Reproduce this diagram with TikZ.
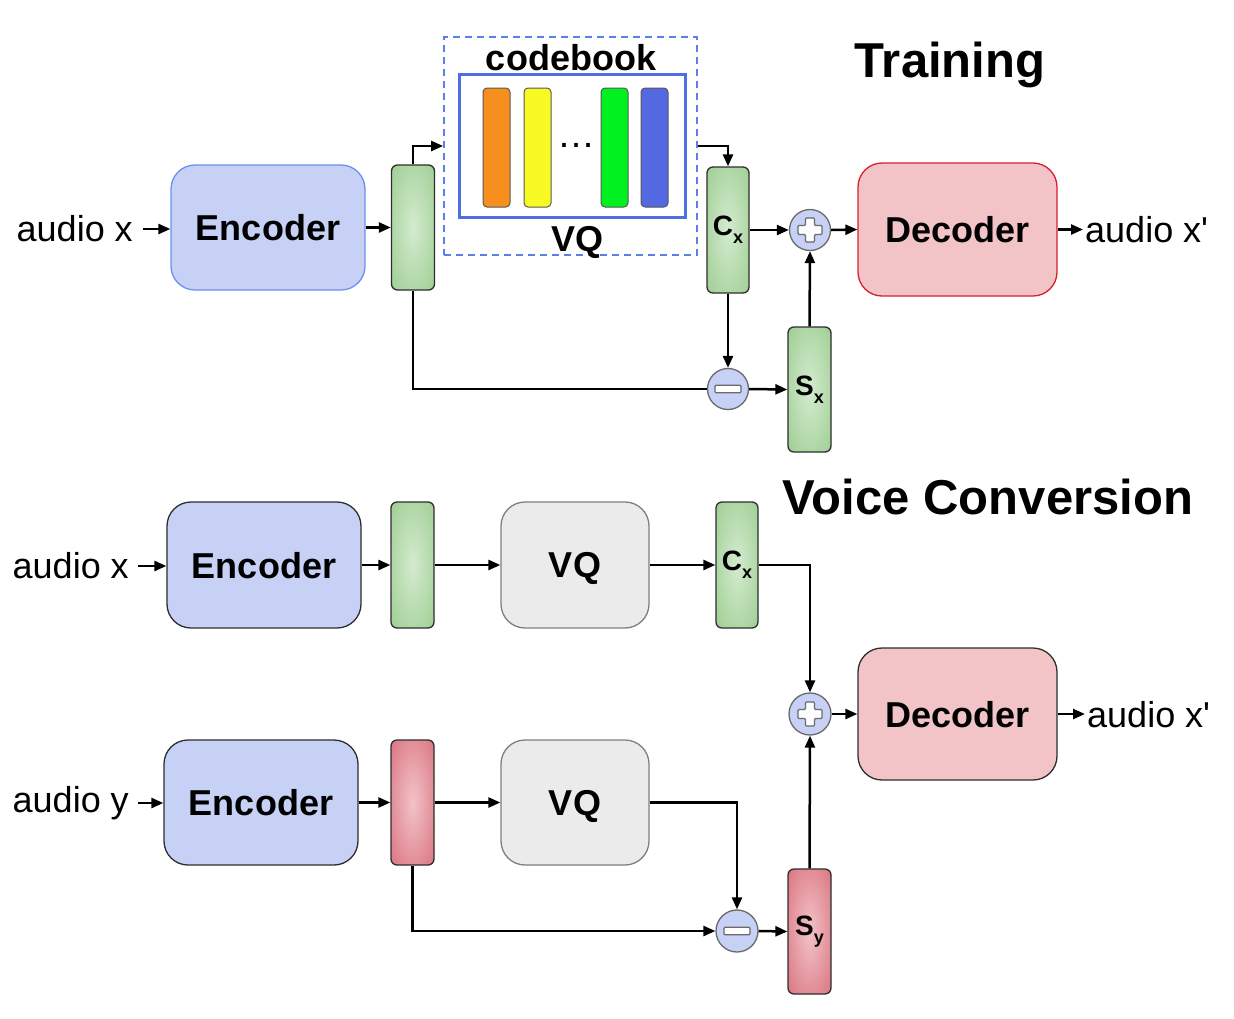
\documentclass[tikz,border=0pt]{standalone}
\usepackage{fontspec}
\setmainfont{Liberation Sans}
\newfontfamily\plainsans{Liberation Sans}[Ligatures=TeXOff]
\usetikzlibrary{arrows.meta,calc}
\definecolor{encfill}{HTML}{C6D1F5}
\definecolor{encdrawA}{HTML}{6E8FEE}
\definecolor{darkdraw}{HTML}{2E2E2E}
\definecolor{decfill}{HTML}{F2C4C8}
\definecolor{decdrawA}{HTML}{D81F2E}
\definecolor{vqfill}{HTML}{EBEBEB}
\definecolor{vqdraw}{HTML}{7F7F7F}
\definecolor{gin}{HTML}{D4EBCF}
\definecolor{gout}{HTML}{8CC47F}
\definecolor{rin}{HTML}{F2C3C8}
\definecolor{rout}{HTML}{D25A68}
\definecolor{circdraw}{HTML}{6A6A6A}
\definecolor{dashblue}{HTML}{5A7FE8}
\definecolor{innerblue}{HTML}{4D6FE3}
\definecolor{cbor}{HTML}{F78F1E}
\definecolor{cbye}{HTML}{F8FB23}
\definecolor{cbgr}{HTML}{00F020}
\definecolor{cbbl}{HTML}{5468E2}
\pgfdeclareradialshading{gshade}{\pgfpoint{0bp}{0bp}}{color(0bp)=(gin); color(48bp)=(gout); color(72bp)=(gout)}
\pgfdeclareradialshading{rshade}{\pgfpoint{0bp}{0bp}}{color(0bp)=(rin); color(48bp)=(rout); color(72bp)=(rout)}
\newcommand\sublbl[2]{#1\raisebox{-8pt}{\fontsize{18}{18}\selectfont #2}}
\begin{document}
\begin{tikzpicture}[x=1pt,y=-1pt,
  box/.style={rounded corners=24pt, line width=1.3pt, inner sep=0pt,
    font=\fontsize{36}{43}\selectfont\bfseries, minimum width=194pt, minimum height=125pt, text depth=0pt},
  enc/.style={box, fill=encfill, draw=darkdraw},
  dec/.style={box, fill=decfill, draw=darkdraw, minimum width=199pt, minimum height=133pt},
  vqbox/.style={box, fill=vqfill, draw=vqdraw, minimum width=148pt, minimum height=126pt},
  bar/.style={rounded corners=6pt, draw=darkdraw, line width=1.3pt, inner sep=0pt,
    minimum width=43pt, minimum height=125pt, font=\fontsize{28}{30}\selectfont\bfseries},
  gbar/.style={bar, shading=gshade},
  rbar/.style={bar, shading=rshade},
  circ/.style={circle, fill=encfill, draw=circdraw, line width=1.3pt, minimum size=41pt, inner sep=0pt},
  sign/.style={fill=white, draw=circdraw, line width=1.2pt, rounded corners=1pt},
  cbar/.style={rounded corners=4pt, draw=darkdraw!80, line width=1pt, minimum width=27pt, minimum height=119pt, inner sep=0pt},
  ln/.style={line width=2.5pt},
  arr/.style={ln, -{Triangle[length=12pt,width=10pt]}},
  lbl/.style={font=\fontsize{36}{43}\selectfont, inner sep=0pt},
  ttl/.style={font=\fontsize{49}{58}\selectfont\bfseries, inner sep=0pt}
]
\useasboundingbox (0,0) rectangle (1234,1018);
\fill[white] (0,0) rectangle (1234,1018);

% ---------------- Training ----------------
\node[ttl] (ttrain) at (950,65) {Training};
\node[lbl, anchor=east] (ax1) at (133,229) {audio x};
\node[enc, draw=encdrawA] (enc1) at (268,227.5) {Encoder};
\node[gbar] (bar1) at (413,227.5) {};
\node[draw=dashblue, dashed, dash pattern=on 7pt off 5pt, line width=1.8pt,
      minimum width=253pt, minimum height=218pt, inner sep=0pt] (cbk) at (570.5,146) {};
\node[draw=innerblue, line width=3pt, minimum width=226pt, minimum height=143pt, inner sep=0pt] (inbox) at (572,145.5) {};
\node[cbar, fill=cbor] (c1) at (496.5,147.5) {};
\node[cbar, fill=cbye] (c2) at (537.5,147.5) {};
\node[cbar, fill=cbgr] (c3) at (614.5,147.5) {};
\node[cbar, fill=cbbl] (c4) at (654.5,147.5) {};
\node[font=\fontsize{38}{38}\selectfont, inner sep=0pt] (dots) at (576,145) {…};
\node[font=\fontsize{36}{43}\selectfont\bfseries, inner sep=0pt] (cbt) at (571,58) {codebook};
\node[font=\fontsize{36}{43}\selectfont\bfseries, inner sep=0pt] (vqt) at (577,242) {VQ};
\node[gbar, minimum width=42pt, minimum height=126pt] (cx1) at (728,230) {\sublbl{C}{x}};
\node[circ] (plus1) at (810,230) {};
\node[dec, draw=decdrawA] (dec1) at (957.5,229.5) {Decoder};
\node[lbl, anchor=west] (axp1) at (1085,230) {audio x{\plainsans '}};
\node[circ] (minus1) at (728,389) {};
\node[gbar] (sx1) at (809.5,389.5) {\sublbl{S}{x}};

\draw[arr] ([xshift=10pt]ax1.east) -- (ax1.east -| enc1.west);
\draw[arr] (enc1.east) -- (bar1.west);
\draw[arr] (bar1.north) |- (cbk.west);
\draw[arr] (cbk.east) -| (cx1.north);
\draw[arr] (cx1.east) -- (plus1.west);
\draw[arr] (plus1.east) -- (dec1.west);
\draw[arr] (dec1.east) -- ([xshift=-2pt]axp1.west |- dec1.east);
\draw[ln] (bar1.south) |- (minus1.west);
\draw[arr] (cx1.south) -- (minus1.north);
\draw[arr] (minus1.east) -- (sx1.west);
\draw[arr] (sx1.north) -- (plus1.south);

% ---------------- Voice Conversion ----------------
\node[ttl] (tvc) at (988,497) {Voice Conversion};
\node[lbl, anchor=east] (ax2) at (129,566) {audio x};
\node[enc, minimum height=126pt] (enc2) at (264,565) {Encoder};
\node[gbar, minimum height=126pt] (bar2) at (412.5,565) {};
\node[vqbox] (vq2) at (575,565) {VQ};
\node[gbar, minimum width=42pt, minimum height=126pt] (cx2) at (737,565) {\sublbl{C}{x}};
\node[circ, minimum size=42pt] (plus2) at (810,714) {};
\node[dec, minimum height=132pt] (dec2) at (957.5,714) {Decoder};
\node[lbl, anchor=west] (axp2) at (1087,715) {audio x{\plainsans '}};

\node[lbl, anchor=east] (ay) at (129,803) {audio y};
\node[enc] (enc3) at (261,802.5) {Encoder};
\node[rbar] (bar3) at (412.5,802.5) {};
\node[vqbox, minimum height=125pt] (vq3) at (575,802.5) {VQ};
\node[circ, minimum size=42pt] (minus2) at (737,931) {};
\node[rbar] (sy) at (809.5,931.5) {\sublbl{S}{y}};

\draw[arr] ([xshift=9pt]ax2.east) -- (ax2.east -| enc2.west);
\draw[arr] (enc2.east) -- (bar2.west);
\draw[arr] (bar2.east) -- (vq2.west);
\draw[arr] (vq2.east) -- (cx2.west);
\draw[arr] (cx2.east) -| (plus2.north);
\draw[arr] (plus2.east) -- (dec2.west);
\draw[arr] (dec2.east) -- ([xshift=-2pt]axp2.west |- dec2.east);

\draw[arr] ([xshift=9pt]ay.east) -- (ay.east -| enc3.west);
\draw[arr] (enc3.east) -- (bar3.west);
\draw[arr] (bar3.east) -- (vq3.west);
\draw[arr] (vq3.east) -| (minus2.north);
\draw[arr] (bar3.south) |- (minus2.west);
\draw[arr] (minus2.east) -- (sy.west);
\draw[arr] (sy.north) -- (plus2.south);

% signs
\foreach \c in {plus1,plus2}{
  \begin{scope}[shift={(\c.center)}]
    \draw[sign] (-4.5,-12) -- (4.5,-12) -- (4.5,-4.5) -- (12,-4.5) -- (12,4.5) -- (4.5,4.5)
      -- (4.5,12) -- (-4.5,12) -- (-4.5,4.5) -- (-12,4.5) -- (-12,-4.5) -- (-4.5,-4.5) -- cycle;
  \end{scope}
}
\foreach \c in {minus1,minus2}{
  \begin{scope}[shift={(\c.center)}]
    \draw[sign] (-13,-3.8) rectangle (13,3.8);
  \end{scope}
}
\end{tikzpicture}
\end{document}
